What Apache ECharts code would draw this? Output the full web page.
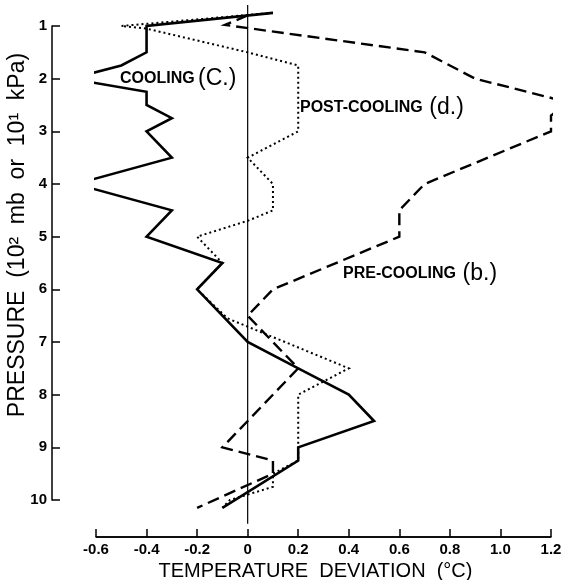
<!DOCTYPE html>
<html>
<head>
<meta charset="utf-8">
<script src="https://cdn.jsdelivr.net/npm/echarts@6.0.0/dist/echarts.min.js"></script>
<style>
html, body { margin: 0; padding: 0; background: #fff; }
#main { width: 568px; height: 580px; }
</style>
</head>
<body>
<div id="main"></div>
<script>
// Temperature deviation (°C) vs pressure (10^2 mb) for each phase
const coolingT = [0.1, -0.4, -0.4, -0.5, -0.7, -0.4, -0.4, -0.3, -0.4, -0.3, -0.68, -0.3, -0.4, -0.1, -0.2, 0, 0.2, 0.4, 0.5, 0.2, 0.2, -0.1];
const coolingP = [0.75, 1.0, 1.5, 1.75, 2.0, 2.25, 2.5, 2.75, 3.0, 3.5, 4.0, 4.5, 5.0, 5.5, 6.0, 7.0, 7.5, 8.0, 8.5, 9.0, 9.25, 10.15];

const preT = [0, -0.09, 0.7, 0.9, 1.27, 1.2, 1.2, 0.7, 0.6, 0.6, 0.1, 0, 0.2, -0.1, 0.1, 0.1, -0.2];
const preP = [0.8, 0.98, 1.5, 2.0, 2.45, 2.7, 3.0, 4.0, 4.5, 5.0, 6.0, 6.5, 7.5, 9.0, 9.25, 9.5, 10.15];

const postT = [0.1, -0.5, -0.4, 0, 0.2, 0.2, 0, 0.1, 0.1, 0, -0.2, -0.1, -0.2, -0.08, 0.4, 0.2, 0.2, 0.1, 0.1, -0.07, -0.1];
const postP = [0.75, 1.0, 1.05, 1.5, 1.75, 3.0, 3.5, 4.0, 4.5, 4.7, 5.0, 5.5, 6.0, 6.55, 7.5, 8.0, 9.25, 9.5, 9.75, 10.0, 10.15];

const zeroT = [0, 0];
const zeroP = [0.6, 10.45];

const tMin = -0.6, tMax = 1.2;
const pMin = 1, pMax = 10;
const xOffset = 37, yOffset = 44;
const grid = { left: 96, right: 17, top: 26, bottom: 80 };
const W = 568, H = 580;

// offset axis lines expressed in data units of the scales
const pxPerT = (W - grid.left - grid.right) / (tMax - tMin);
const pxPerP = (H - grid.top - grid.bottom) / (pMax - pMin);
const xLineP = pMax + xOffset / pxPerP;
const yLineT = tMin - yOffset / pxPerT;

const zip = (xs, ys) => xs.map((x, i) => [x, ys[i]]);
const font = 'Liberation Sans';

const chart = echarts.init(document.getElementById('main'));
const lineSeries = (data, width, type) => ({
  type: 'line',
  data,
  showSymbol: false,
  clip: false,
  silent: true,
  lineStyle: { color: '#000', width, type, cap: 'butt', join: 'miter' },
});
const rich = {
  a: { fontFamily: font, fontSize: 16, fontWeight: 'bold', fill: '#000' },
  b: { fontFamily: font, fontSize: 23, fill: '#000' },
};
const axisLine = { show: true, onZero: false, lineStyle: { color: '#000', width: 1.5 } };

chart.setOption({
  animation: false,
  backgroundColor: '#fff',
  grid: { ...grid, outerBoundsMode: 'none', containLabel: false },
  xAxis: {
    type: 'value', min: tMin, max: tMax, interval: 0.2,
    offset: xOffset,
    name: 'TEMPERATURE  DEVIATION  (°C)',
    nameLocation: 'middle', nameGap: 22,
    nameTextStyle: { fontFamily: font, fontSize: 20, color: '#000', padding: [0, 16, 0, 0] },
    axisLine,
    axisTick: { show: true, inside: true, length: 8, lineStyle: { color: '#000', width: 1.5 } },
    axisLabel: {
      margin: 5, color: '#000', fontFamily: font, fontSize: 15, fontWeight: 'bold',
      formatter: v => (Math.abs(v) < 1e-9 ? '0' : v.toFixed(1)),
    },
    splitLine: { show: false },
  },
  yAxis: {
    type: 'value', min: pMin, max: pMax, interval: 1, inverse: true,
    offset: yOffset,
    axisLine,
    axisTick: { show: true, inside: true, length: 8, lineStyle: { color: '#000', width: 1.5 } },
    axisLabel: { margin: 5, color: '#000', fontFamily: font, fontSize: 15, fontWeight: 'bold' },
    splitLine: { show: false },
  },
  graphic: [
    {
      id: 'yName', type: 'text', x: 18, y: 235, rotation: Math.PI / 2,
      style: {
        text: 'PRESSURE  (10²  mb  or  10¹  kPa)',
        fontFamily: font, fontSize: 23, fill: '#000',
        align: 'center', verticalAlign: 'middle',
      },
    },
    { id: 'lblC', type: 'text', left: 120, top: 67, style: { text: '{a|COOLING} {b|(C.)}', rich } },
    { id: 'lblD', type: 'text', left: 300, top: 96, style: { text: '{a|POST-COOLING}  {b|(d.)}', rich } },
    { id: 'lblB', type: 'text', left: 343, top: 262, style: { text: '{a|PRE-COOLING}  {b|(b.)}', rich } },
  ],
  series: [
    lineSeries([[tMin, xLineP], [tMax, xLineP]], 1.5, 'solid'),
    lineSeries([[yLineT, pMin], [yLineT, pMax]], 1.5, 'solid'),
    lineSeries(zip(zeroT, zeroP), 1.2, 'solid'),
    lineSeries(zip(coolingT, coolingP), 2.6, 'solid'),
    lineSeries(zip(preT, preP), 2.4, [12, 6]),
    lineSeries(zip(postT, postP), 2, [2, 3]),
  ],
});
</script>
</body>
</html>
